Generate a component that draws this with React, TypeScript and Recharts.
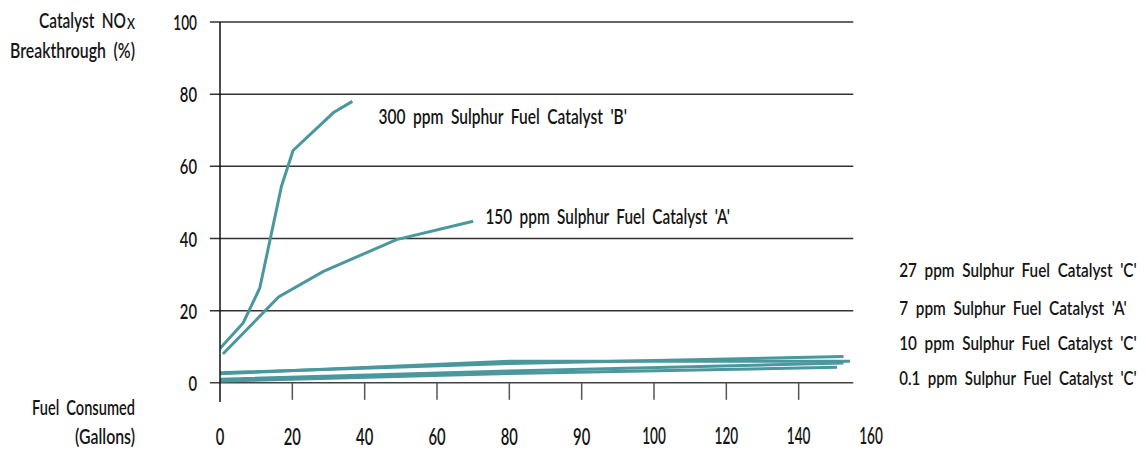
import React from "react";
import { LineChart, Line, XAxis, YAxis, ReferenceLine, ReferenceDot } from "recharts";

const FONT_NAME = "Lato";
const FONT = "Lato, 'Open Sans', 'Noto Sans', sans-serif";
const FONT_WEIGHT = 600;
const LINE_COLOR = "#4a979e";
const TEXT_COLOR = "#151515";
const WORD_SPACING = 5;

// X axis is drawn at evenly spaced positions (tick index), labelled as in the source
const xTickLabels = ["0", "20", "40", "60", "80", "90", "100", "120", "140", "160"];
const xTickPositions = [0, 1, 2, 3, 4, 5, 6, 7, 8, 9];
const yTicks = [0, 20, 40, 60, 80, 100];
const gridValues = [0, 20, 40, 60, 80, 100];

// Series (x = position on the fuel axis in tick steps, y = NOx breakthrough %)
const s300BX = [0, 0.32, 0.55, 0.85, 1.01, 1.57, 1.83];
const s300BY = [9.5, 16.6, 26.3, 54.5, 64.4, 74.9, 78];
const s150AX = [0.04, 0.81, 1.43, 2.44, 3.5];
const s150AY = [8, 23.8, 30.9, 39.7, 44.8];
const s27CX = [0, 4, 8.62];
const s27CY = [2.8, 5.4, 7.3];
const s7AX = [0, 4, 8.71];
const s7AY = [2.5, 6.0, 6.0];
const s10CX = [0, 4, 8.62];
const s10CY = [1.0, 3.3, 5.5];
const s01CX = [0, 4, 8.53];
const s01CY = [0.5, 2.6, 4.3];

const seriesNames = [
  "300 ppm Sulphur Fuel Catalyst 'B'",
  "150 ppm Sulphur Fuel Catalyst 'A'",
  "27 ppm Sulphur Fuel Catalyst 'C'",
  "7 ppm Sulphur Fuel Catalyst 'A'",
  "10 ppm Sulphur Fuel Catalyst 'C'",
  "0.1 ppm Sulphur Fuel Catalyst 'C'",
];

// label anchor positions (data units)
const labelX = [2.19, 3.67, 9.39, 9.39, 9.39, 9.39];
const labelY = [74.0, 46.3, 31.4, 21.1, 11.4, 1.4];
const labelWidths = [249, 245, 238, 228, 238, 238];
const labelSizes = [21, 21, 20, 20, 20, 20];

const zip = (xs: number[], ys: number[]) => xs.map((x, i) => ({ x, y: ys[i] }));

const series = [
  zip(s300BX, s300BY),
  zip(s150AX, s150AY),
  zip(s27CX, s27CY),
  zip(s7AX, s7AY),
  zip(s10CX, s10CY),
  zip(s01CX, s01CY),
];

let measureCtx: CanvasRenderingContext2D | null = null;
const measure = (text: string, size: number) => {
  if (!measureCtx) {
    const c = document.createElement("canvas");
    measureCtx = c.getContext("2d");
  }
  if (!measureCtx) return text.length * size * 0.5;
  measureCtx.font = `${FONT_WEIGHT} ${size}px ${FONT_NAME}`;
  const spaces = (text.match(/ /g) || []).length;
  return measureCtx.measureText(text).width + spaces * WORD_SPACING;
};

const numWidth = (s: string) => {
  let w = 0;
  for (const c of s) w += c === "1" ? 6.5 : c === "." ? 4 : 8.6;
  return w;
};

// text squeezed horizontally to a target width, anchored at (x, y)
const SqText = (p: { x: number; y: number; text: string; size: number; width: number; anchor: "start" | "middle" | "end" }) => {
  const natural = measure(p.text, p.size);
  const s = natural > 0 ? p.width / natural : 1;
  return (
    <text
      transform={`translate(${p.x * (1 - s)},0) scale(${s},1)`}
      x={p.x}
      y={p.y}
      textAnchor={p.anchor}
      dominantBaseline="central"
      fontFamily={FONT}
      fontWeight={FONT_WEIGHT}
      fontSize={p.size}
      fill={TEXT_COLOR}
      style={{ wordSpacing: WORD_SPACING }}
    >
      {p.text}
    </text>
  );
};

const XTick = (props: any) => {
  const { x, payload } = props;
  const s = xTickLabels[payload.value];
  return <SqText x={x} y={436} text={s} size={22} width={numWidth(s)} anchor="middle" />;
};

const YTick = (props: any) => {
  const { y, payload } = props;
  const s = String(payload.value);
  return <SqText x={197} y={y} text={s} size={21} width={numWidth(s)} anchor="end" />;
};

const makeLabel = (text: string, width: number, size: number) => (props: any) => {
  const { viewBox } = props;
  const cx = viewBox.cx ?? viewBox.x;
  const cy = viewBox.cy ?? viewBox.y;
  return <SqText x={cx} y={cy} text={text} size={size} width={width} anchor="start" />;
};

const X_END = 8.755;
const X_START = -0.14;

export default function App() {
  return (
    <div style={{ position: "absolute", left: 0, top: 0, width: 1146, height: 450, background: "#fff" }}>
      <LineChart width={1146} height={450} margin={{ top: 22, right: 275, bottom: 0, left: 0 }}>
        <XAxis
          type="number"
          dataKey="x"
          domain={[0, 9]}
          ticks={xTickPositions}
          axisLine={false}
          tickLine={false}
          tick={<XTick />}
          height={48}
          allowDataOverflow
        />
        <YAxis
          type="number"
          dataKey="y"
          domain={[-5.3, 100]}
          ticks={yTicks}
          width={220}
          axisLine={{ stroke: "#111", strokeWidth: 1.5 }}
          tickLine={false}
          tick={<YTick />}
          allowDataOverflow
        />
        {gridValues.map((g) => (
          <ReferenceLine
            key={"g" + g}
            segment={[{ x: X_START, y: g }, { x: X_END, y: g }]}
            stroke={g === 0 ? "#444" : "#333"}
            strokeWidth={1.5}
            ifOverflow="visible"
          />
        ))}
        {xTickPositions.slice(1, 9).map((t) => (
          <ReferenceLine
            key={"t" + t}
            segment={[{ x: t, y: 0 }, { x: t, y: -4.7 }]}
            stroke="#555"
            strokeWidth={1.5}
            ifOverflow="visible"
          />
        ))}
        {series.map((d, i) => (
          <Line
            key={i}
            data={d}
            dataKey="y"
            type="linear"
            stroke={LINE_COLOR}
            strokeWidth={3}
            dot={false}
            isAnimationActive={false}
            name={seriesNames[i]}
          />
        ))}
        {seriesNames.map((n, i) => (
          <ReferenceDot
            key={"l" + i}
            x={labelX[i]}
            y={labelY[i]}
            r={0}
            fill="none"
            stroke="none"
            ifOverflow="visible"
            label={makeLabel(n, labelWidths[i], labelSizes[i])}
          />
        ))}
      </LineChart>
      <svg width={200} height={450} style={{ position: "absolute", left: 0, top: 0, pointerEvents: "none" }}>
        <SqText x={126} y={20} text="Catalyst NO" size={21} width={87} anchor="end" />
        <SqText x={135} y={24} text="X" size={15} width={8} anchor="end" />
        <SqText x={135} y={50} text="Breakthrough (%)" size={21} width={125} anchor="end" />
        <SqText x={135} y={407} text="Fuel Consumed" size={21} width={103} anchor="end" />
        <SqText x={135} y={436} text="(Gallons)" size={21} width={60} anchor="end" />
      </svg>
    </div>
  );
}
